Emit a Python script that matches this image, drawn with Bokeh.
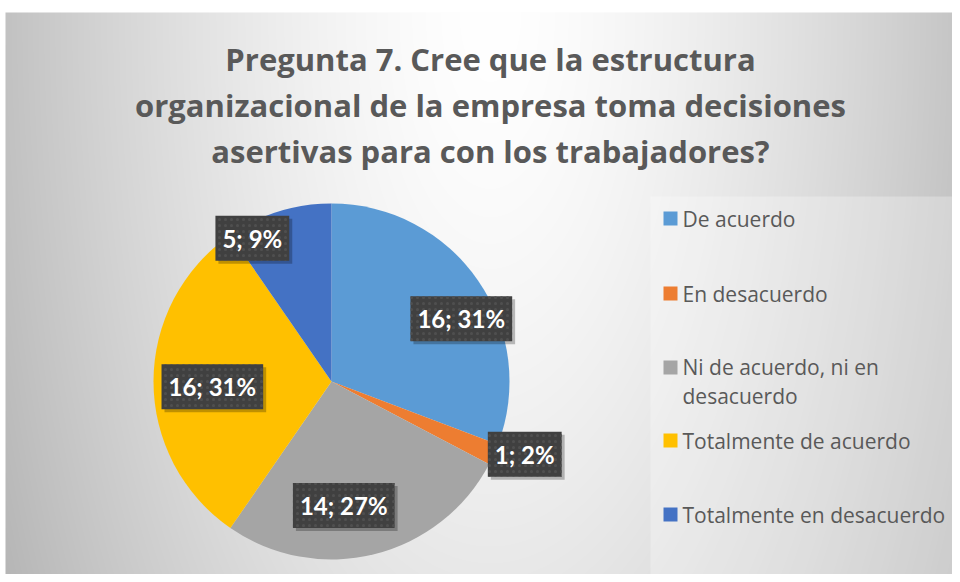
import math
import numpy as np
from bokeh.plotting import figure
from bokeh.models import Range1d, ColumnDataSource
from bokeh.core.properties import value
from bokeh.embed import file_html
from bokeh.resources import INLINE

# ---------------- data ----------------
title_lines = [
    "Pregunta 7. Cree que la estructura",
    "organizacional de la empresa toma decisiones",
    "asertivas para con los trabajadores?",
]
categories = [
    "De acuerdo",
    "En desacuerdo",
    "Ni de acuerdo, ni en desacuerdo",
    "Totalmente de acuerdo",
    "Totalmente en desacuerdo",
]
legend_labels = [
    "De acuerdo",
    "En desacuerdo",
    "Ni de acuerdo, ni en\ndesacuerdo",
    "Totalmente de acuerdo",
    "Totalmente en desacuerdo",
]
counts = [16, 1, 14, 16, 5]
percents = [31, 2, 27, 31, 9]
colors = ["#5B9BD5", "#ED7D31", "#A5A5A5", "#FFC000", "#4472C4"]

# ---------------- layout (screen px) ----------------
W, H = 952, 574
def Y(sy):
    return H - sy

CX, CY, R = 331, 381, 178
label_rfrac = [0.81, 1.16, 0.70, 0.67, 0.92]
label_dang = [8.8, -3.6, 8.2, -2.5, -11.6]
legend_y = [218, 293, 367, 440, 514]
title_y = [58, 104, 150]
TEXT_COLOR = "#595959"

p = figure(width=W, height=H, x_range=Range1d(0, W), y_range=Range1d(0, H),
           output_backend="svg", toolbar_location=None, min_border=0,
           x_axis_location=None, y_axis_location=None)
p.grid.visible = False
p.outline_line_color = None
p.background_fill_color = "white"
p.border_fill_color = "white"

# background gradient (from screen y=12 downward)
gh, gw = H - 12, W - 5
xs = 5 + np.arange(gw) + 0.5
ys_s = H - (np.arange(gh) + 0.5)
X, YS = np.meshgrid(xs, ys_s)
t = np.sqrt(((X - 490) / 490.0) ** 2 + ((YS - 12) / 1100.0) ** 2)
v = np.clip(255 - 62 * np.clip(t, 0, 1.2) ** 1.5, 0, 255).astype(np.uint8)
img = np.empty((gh, gw), dtype=np.uint32)
view = img.view(dtype=np.uint8).reshape((gh, gw, 4))
view[..., 0] = v
view[..., 1] = v
view[..., 2] = v
view[..., 3] = 255
p.image_rgba(image=[img], x=5, y=0, dw=gw, dh=gh)

# legend box
p.quad(left=650, right=955, top=Y(196), bottom=0, fill_color="white", fill_alpha=0.28, line_color=None)

# pie
total = sum(counts)
cum = np.cumsum([0] + counts) / total * 2 * math.pi
starts = [math.pi / 2 - a for a in cum[:-1]]
ends = [math.pi / 2 - a for a in cum[1:]]
src = ColumnDataSource(dict(start=starts, end=ends, color=colors, cat=categories))
p.wedge(x=CX, y=Y(CY), radius=R, start_angle="start", end_angle="end", direction="clock",
        fill_color="color", line_color=None, source=src)

# data labels
mids = [(a0 + a1) / 2 for a0, a1 in zip(cum[:-1], cum[1:])]
lx, ly, lt = [], [], []
for m, rf, da, c, pc in zip(mids, label_rfrac, label_dang, counts, percents):
    ang = m + math.radians(da)
    lx.append(CX + R * rf * math.sin(ang))
    ly.append(Y(CY - R * rf * math.cos(ang)))
    lt.append(f"{c}; {pc}%")
lsrc = ColumnDataSource(dict(x=lx, y=ly, text=lt))
# shadow
p.text(x="x", y="y", text="text", source=lsrc, x_offset=3, y_offset=3,
       text_align="center", text_baseline="middle",
       text_font=value("Lato"), text_font_style="bold", text_font_size="24px",
       text_alpha=0, background_fill_color="black", background_fill_alpha=0.25,
       padding=(7, 8))
p.text(x="x", y="y", text="text", source=lsrc,
       text_align="center", text_baseline="middle",
       text_font=value("Lato"), text_font_style="bold", text_font_size="24px",
       text_color="white", background_fill_color="#404040",
       background_hatch_pattern="dot", background_hatch_color="#4f4f4f",
       background_hatch_scale=6, background_hatch_weight=1,
       padding=(7, 8))

# title
p.text(x=[490] * 3, y=[Y(v_) for v_ in title_y], text=title_lines,
       text_align="center", text_baseline="middle",
       text_font=value("Open Sans"), text_font_style="bold", text_font_size="31px",
       text_color=TEXT_COLOR)

# legend
p.scatter(x=[670] * len(colors), y=[Y(v_) for v_ in legend_y], marker="square", size=14,
          fill_color=colors, line_color=None)
ty = [Y(yy + (lab.count("\n")) * 14) for yy, lab in zip(legend_y, legend_labels)]
p.text(x=[682] * len(legend_labels), y=ty, text=legend_labels,
       text_align="left", text_baseline="middle", text_line_height=1.03,
       text_font=value("Open Sans"), text_font_size="21px", text_color=TEXT_COLOR)

open("out.html", "w").write(file_html(p, INLINE))
